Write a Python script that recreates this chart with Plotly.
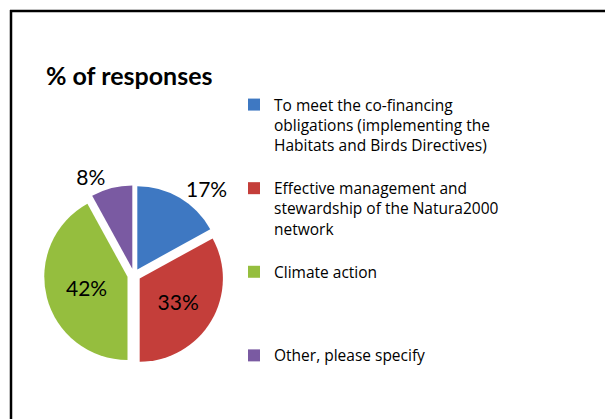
import plotly.graph_objects as go

W, H = 613, 419

labels = [
    "To meet the co-financing<br>obligations (implementing the<br>Habitats and Birds Directives)<br>&nbsp;",
    "Effective management and<br>stewardship of the Natura2000<br>network<br>&nbsp;",
    "Climate action<br>&nbsp;<br>&nbsp;<br>&nbsp;",
    "Other, please specify",
]
values = [17, 33, 42, 8]
colors = ["#3E78C2", "#C43E3A", "#95BE3E", "#7A5AA2"]
text_positions = ["outside", "inside", "inside", "outside"]
title_text = "% of responses"

FONT = "Lato, sans-serif"
LEGEND_FONT = "Open Sans, Lato, sans-serif"

fig = go.Figure(
    go.Pie(
        labels=labels,
        values=values,
        sort=False,
        direction="clockwise",
        rotation=0,
        marker=dict(colors=colors, line=dict(color="white", width=0)),
        pull=[0.08, 0.08, 0.08, 0.08],
        textinfo="percent",
        textposition=text_positions,
        insidetextorientation="horizontal",
        textfont=dict(family=FONT, size=21, color="black"),
        domain=dict(x=[0.0587, 0.3522], y=[0.148, 0.577]),
        showlegend=True,
    )
)

fig.update_layout(
    width=W,
    height=H,
    margin=dict(l=0, r=0, t=0, b=0),
    paper_bgcolor="white",
    plot_bgcolor="white",
    font=dict(family=FONT, color="black"),
    title=dict(
        text="<b>" + title_text + "</b>",
        x=38 / W,
        xanchor="left",
        y=1 - 68 / H,
        yanchor="middle",
        font=dict(family=FONT, size=25, color="black"),
    ),
    legend=dict(
        x=226 / W,
        xanchor="left",
        y=1 - 80 / H,
        yanchor="top",
        valign="top",
        font=dict(family=LEGEND_FONT, size=15.5, color="black"),
        bgcolor="rgba(0,0,0,0)",
    ),
    shapes=[
        dict(type="line", xref="paper", yref="paper", x0=2 / W, x1=1, y0=1 - 3 / H, y1=1 - 3 / H,
             line=dict(color="black", width=2.5)),
        dict(type="line", xref="paper", yref="paper", x0=3 / W, x1=3 / W, y0=0, y1=1 - 2 / H,
             line=dict(color="black", width=2.5)),
    ],
)

fig.write_html("out.html")
